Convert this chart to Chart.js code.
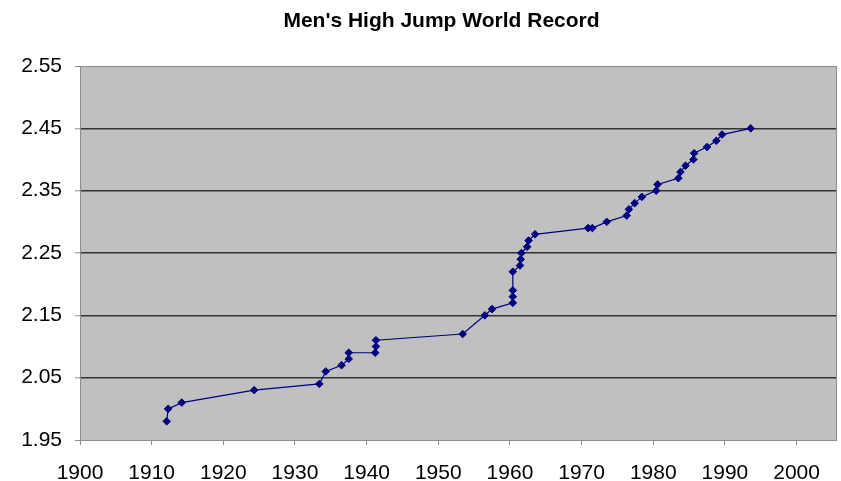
<!DOCTYPE html>
<html>
<head>
<meta charset="utf-8">
<script src="https://cdn.jsdelivr.net/npm/chart.js@4"></script>
<style>
  html, body { margin: 0; padding: 0; background: #ffffff; }
  #wrap { width: 841px; height: 481px; position: relative; }
</style>
</head>
<body>
<div id="wrap"><canvas id="c" width="841" height="481"></canvas></div>
<script>
const chartTitle = "Men's High Jump World Record";
const years = [1912.1, 1912.3, 1914.2, 1924.3, 1933.4, 1934.3, 1936.5, 1937.5, 1937.5, 1941.2, 1941.3, 1941.3,
  1953.4, 1956.5, 1957.5, 1960.4, 1960.4, 1960.4, 1960.4, 1961.4, 1961.5, 1961.6, 1962.4, 1962.6, 1963.5,
  1970.9, 1971.5, 1973.5, 1976.3, 1976.6, 1977.4, 1978.4, 1980.4, 1980.6, 1983.5, 1983.8, 1984.5, 1985.6,
  1985.7, 1987.5, 1988.8, 1989.6, 1993.6];
const heights = [1.98, 2.00, 2.01, 2.03, 2.04, 2.06, 2.07, 2.08, 2.09, 2.09, 2.10, 2.11,
  2.12, 2.15, 2.16, 2.17, 2.18, 2.19, 2.22, 2.23, 2.24, 2.25, 2.26, 2.27, 2.28,
  2.29, 2.29, 2.30, 2.31, 2.32, 2.33, 2.34, 2.35, 2.36, 2.37, 2.38, 2.39, 2.40,
  2.41, 2.42, 2.43, 2.44, 2.45];
const xTickValues = [1900, 1910, 1920, 1930, 1940, 1950, 1960, 1970, 1980, 1990, 2000];
const yTickValues = [1.95, 2.05, 2.15, 2.25, 2.35, 2.45, 2.55];

const points = years.map((y, i) => ({ x: y, y: heights[i] }));

const plotBg = {
  id: 'plotBg',
  beforeDraw(chart) {
    const { ctx, chartArea: a } = chart;
    ctx.save();
    ctx.fillStyle = '#c0c0c0';
    ctx.fillRect(a.left, a.top, a.right - a.left + 1, a.bottom - a.top);
    ctx.restore();
  },
  afterDraw(chart) {
    const { ctx, chartArea: a } = chart;
    ctx.save();
    ctx.strokeStyle = '#8c8c8c';
    ctx.lineWidth = 1;
    ctx.strokeRect(a.left + 0.5, a.top + 0.5, a.right - a.left, a.bottom - a.top);
    ctx.fillStyle = '#000';
    ctx.font = 'bold 21px "Liberation Sans", Arial, sans-serif';
    ctx.textAlign = 'center';
    ctx.textBaseline = 'middle';
    ctx.fillText(chartTitle, 441.5, 21);
    ctx.restore();
  }
};

new Chart(document.getElementById('c'), {
  type: 'scatter',
  data: {
    datasets: [{
      data: points,
      showLine: true,
      borderColor: '#000080',
      backgroundColor: '#000080',
      borderWidth: 1.2,
      pointStyle: 'rectRot',
      pointRadius: 3.8,
      pointBorderWidth: 1,
      pointBorderColor: '#000080',
      pointBackgroundColor: '#000080',
      tension: 0
    }]
  },
  options: {
    responsive: false,
    animation: false,
    devicePixelRatio: 1,
    layout: { padding: { top: 66, right: 0, left: 0, bottom: 0 } },
    plugins: {
      legend: { display: false },
      title: { display: false },
      tooltip: { enabled: false }
    },
    scales: {
      x: {
        type: 'linear',
        min: 1900,
        max: 2005.5,
        afterBuildTicks(scale) {
          scale.ticks = xTickValues.map(v => ({ value: v }));
        },
        afterFit(scale) { scale.height = 41; scale.paddingRight = 0; },
        border: { display: false },
        grid: { drawOnChartArea: false, drawTicks: true, tickLength: 5, color: '#8c8c8c' },
        ticks: {
          color: '#000',
          font: { family: '"Liberation Sans", Arial, sans-serif', size: 21 },
          padding: 16,
          maxRotation: 0,
          autoSkip: false,
          callback: v => String(v)
        }
      },
      y: {
        type: 'linear',
        min: 1.95,
        max: 2.55,
        afterBuildTicks(scale) {
          scale.ticks = yTickValues.map(v => ({ value: v }));
        },
        afterFit(scale) { scale.width = 80; },
        border: { display: false },
        grid: {
          drawTicks: true,
          tickLength: 5,
          color: ctx => (ctx.index === 0 || ctx.index === yTickValues.length - 1) ? '#8c8c8c' : '#333333',
          lineWidth: ctx => (ctx.index === 0 || ctx.index === yTickValues.length - 1) ? 1 : 1.6,
          tickColor: '#8c8c8c',
          tickWidth: 1
        },
        ticks: {
          color: '#000',
          font: { family: '"Liberation Sans", Arial, sans-serif', size: 21 },
          padding: 13,
          autoSkip: false,
          callback: v => Number(v).toFixed(2)
        }
      }
    }
  },
  plugins: [plotBg]
});
</script>
</body>
</html>
